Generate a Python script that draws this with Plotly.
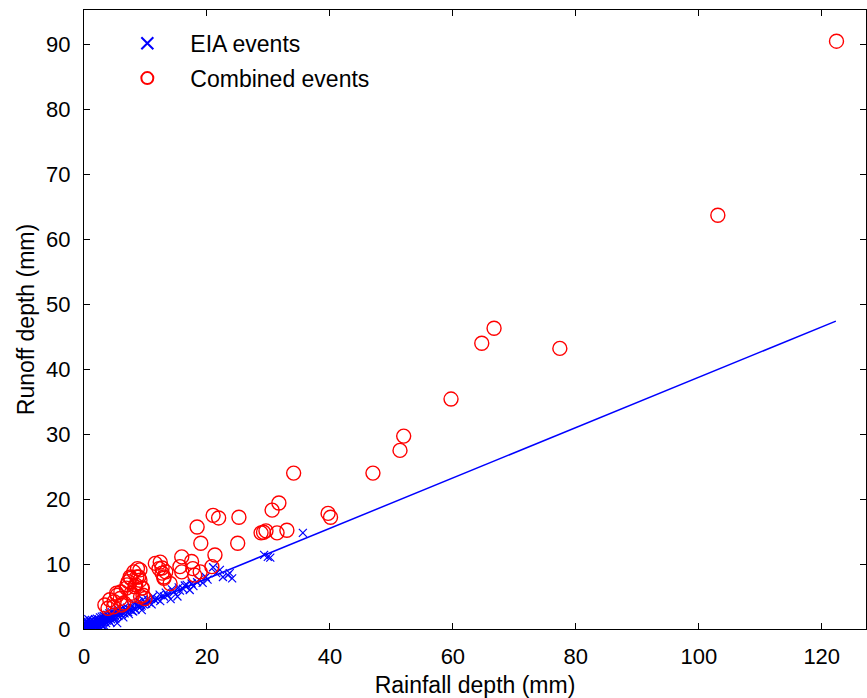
import plotly.graph_objects as go

# EIA events (blue x)
eia_x = [0.2, 0.3, 0.4, 0.5, 0.5, 0.6, 0.7, 0.8, 0.8, 0.9,
         1.0, 1.0, 1.1, 1.2, 1.2, 1.3, 1.4, 1.5, 1.5, 1.6,
         1.7, 1.8, 1.9, 2.0, 2.0, 2.1, 2.2, 2.3, 2.4, 2.5,
         2.6, 2.7, 2.8, 3.0, 3.1, 3.2, 3.4, 3.5, 3.7, 3.9,
         4.0, 4.2, 4.4, 4.6, 4.8, 5.0, 5.1, 5.4, 5.6, 5.9,
         6.1, 6.3, 6.6, 6.9, 7.2, 7.5, 7.8, 8.1, 8.4, 8.8,
         9.2, 9.4, 9.7, 10.1, 10.6, 11.0, 11.5, 12.0, 12.4, 13.0,
         13.6, 14.1, 14.6, 15.2, 15.6, 16.1, 16.7, 17.2, 17.8, 18.4,
         19.3, 20.1, 21.0, 22.1, 22.6, 23.4, 23.7, 24.1, 29.3, 29.9,
         30.3, 35.6,
         1.1, 1.9, 2.9, 3.6, 4.3, 5.4, 6.4, 7.3, 8.0, 9.4, 2.3, 1.6, 0.9, 3.3,
         0.3, 0.5, 0.7, 0.4,
         0.1, 0.2, 0.4, 0.6, 0.9, 1.1, 1.3, 1.6, 1.8, 2.1,
         2.4, 2.6, 2.9, 3.2, 3.5, 3.8, 4.1, 4.5, 4.9, 5.3,
         5.7, 6.0, 6.5, 7.0, 7.6, 8.2, 8.9, 9.6, 10.3, 11.2,
         12.3, 13.3, 14.3, 15.4, 16.4, 17.5, 18.7, 19.8, 21.5,
         0.6, 1.4, 2.2, 3.0, 0.8]
eia_y = [0.1, 0.1, 0.2, 0.1, 0.3, 0.2, 0.3, 0.2, 0.4, 0.3,
         0.4, 0.1, 0.5, 0.3, 0.6, 0.5, 0.4, 0.6, 0.2, 0.7,
         0.5, 0.8, 0.6, 0.9, 0.4, 0.8, 1.0, 0.7, 1.1, 0.9,
         1.2, 0.8, 1.1, 1.3, 1.0, 1.4, 1.2, 1.5, 1.3, 1.6,
         1.4, 1.8, 1.5, 1.9, 1.7, 2.0, 1.6, 2.2, 2.0, 2.4,
         2.1, 2.6, 2.4, 2.8, 2.6, 3.0, 2.8, 3.2, 3.0, 3.5,
         3.4, 2.9, 3.8, 3.9, 4.1, 3.8, 4.5, 4.6, 4.3, 5.0,
         5.2, 4.6, 5.7, 5.0, 5.9, 6.2, 6.8, 6.0, 6.6, 7.2,
         7.1, 7.6, 9.5, 9.1, 8.0, 8.3, 8.6, 7.8, 11.4, 11.1,
         11.0, 14.8,
         0.0, 0.3, 0.6, 0.9, 1.0, 0.9, 1.8, 2.3, 2.7, 3.6, 0.2, 0.0, 0.0, 0.5,
         0.8, 1.2, 1.5, 0.5,
         0.6, 0.9, 1.0, 0.9, 1.1, 1.3, 1.4, 1.2, 1.5, 1.6,
         1.5, 1.8, 1.9, 2.0, 1.9, 2.2, 2.4, 2.6, 2.5, 2.7,
         2.9, 3.1, 3.3, 3.3, 3.6, 3.9, 4.2, 4.5, 4.6, 5.0,
         5.3, 5.6, 6.1, 6.4, 6.7, 7.0, 7.6, 8.0, 8.6,
         0.0, 0.1, 0.2, 0.4, 0.7]

# Combined events (red open circles)
comb_x = [122.4, 103.1, 77.4, 66.7, 64.7, 59.7, 52.0, 51.4, 47.0, 39.7,
          40.1, 34.1, 33.0, 31.7, 30.6, 31.4, 29.6, 28.8, 29.2, 25.2,
          25.0, 21.0, 21.9, 18.4, 19.0, 21.3, 20.8, 15.9, 15.6, 15.9,
          17.5, 17.7, 18.0, 18.9, 12.4, 12.7, 13.3, 13.0, 14.0, 9.1,
          8.6, 7.5, 7.2, 9.1, 8.3, 6.9, 5.3, 5.9, 4.2, 3.4,
          6.1, 7.7, 9.6, 9.4, 9.9, 4.8, 3.9, 4.9, 5.4, 6.0,
          6.5, 7.0, 7.6, 8.1, 8.7, 8.9, 8.4, 9.5, 7.9, 9.2,
          11.6, 12.2, 12.7, 13.0]
comb_y = [90.5, 63.7, 43.2, 46.3, 44.0, 35.4, 29.7, 27.5, 24.0, 17.8,
          17.2, 24.0, 15.2, 19.4, 18.3, 14.8, 15.1, 14.8, 14.9, 17.2,
          13.2, 17.5, 17.1, 15.7, 13.2, 11.4, 9.6, 11.1, 9.6, 8.8,
          10.4, 9.3, 8.3, 8.8, 10.3, 9.4, 8.8, 8.0, 7.0, 9.1,
          8.0, 8.0, 7.3, 7.5, 6.5, 6.3, 5.5, 4.7, 4.5, 3.7,
          3.7, 5.5, 5.2, 6.3, 4.7, 3.4, 3.2, 4.2, 5.2, 5.7,
          4.0, 6.8, 7.8, 8.8, 9.3, 8.0, 6.8, 6.3, 5.2, 5.0,
          10.1, 9.3, 8.6, 7.8]

# Fitted line for EIA events
fit_x = [0.0, 122.3]
fit_y = [0.0, 47.4]

x_ticks = [0, 20, 40, 60, 80, 100, 120]
y_ticks = [0, 10, 20, 30, 40, 50, 60, 70, 80, 90]

FONT = "Liberation Sans, Arial, sans-serif"

fig = go.Figure()
fig.add_trace(go.Scatter(
    x=fit_x, y=fit_y, mode="lines", showlegend=False,
    line=dict(color="#0000ff", width=1.5), hoverinfo="skip"))
fig.add_trace(go.Scatter(
    x=eia_x, y=eia_y, mode="markers", name="EIA events", legendgroup="a",
    marker=dict(symbol="x-thin-open", size=8, color="#0000ff",
                line=dict(color="#0000ff", width=1.2))))
fig.add_trace(go.Scatter(
    x=comb_x, y=comb_y, mode="markers", name="Combined events", legendgroup="b",
    marker=dict(symbol="circle-open", size=14, color="#ff0000",
                line=dict(color="#ff0000", width=1.4))))

axis_common = dict(
    showline=True, linecolor="black", linewidth=1, mirror="ticks",
    ticks="inside", ticklen=6, tickwidth=1, tickcolor="black",
    showgrid=False, zeroline=False,
    tickfont=dict(family=FONT, size=22, color="black"),
)

fig.update_layout(
    width=867, height=698,
    margin=dict(l=84, r=1, t=10, b=69),
    paper_bgcolor="white", plot_bgcolor="white",
    font=dict(family=FONT, size=22, color="black"),
    xaxis=dict(range=[0, 127.2], tickvals=x_ticks, ticklabelstandoff=8,
               title=dict(text="Rainfall depth (mm)", standoff=10,
                          font=dict(family=FONT, size=23)),
               **axis_common),
    yaxis=dict(range=[0, 95.3], tickvals=y_ticks, ticklabelstandoff=8,
               title=dict(text="Runoff depth (mm)", standoff=5,
                          font=dict(family=FONT, size=23)),
               **axis_common),
    legend=dict(x=0.026, y=0.981, xanchor="left", yanchor="top",
                bgcolor="rgba(0,0,0,0)", borderwidth=0,
                font=dict(family=FONT, size=23, color="black"),
                itemsizing="constant", itemwidth=76,
                traceorder="grouped", tracegroupgap=2),
)

fig.write_html(
    "out.html",
    config={"displayModeBar": False},
    post_script="document.body.style.margin='0';document.body.style.overflow='hidden';",
)
